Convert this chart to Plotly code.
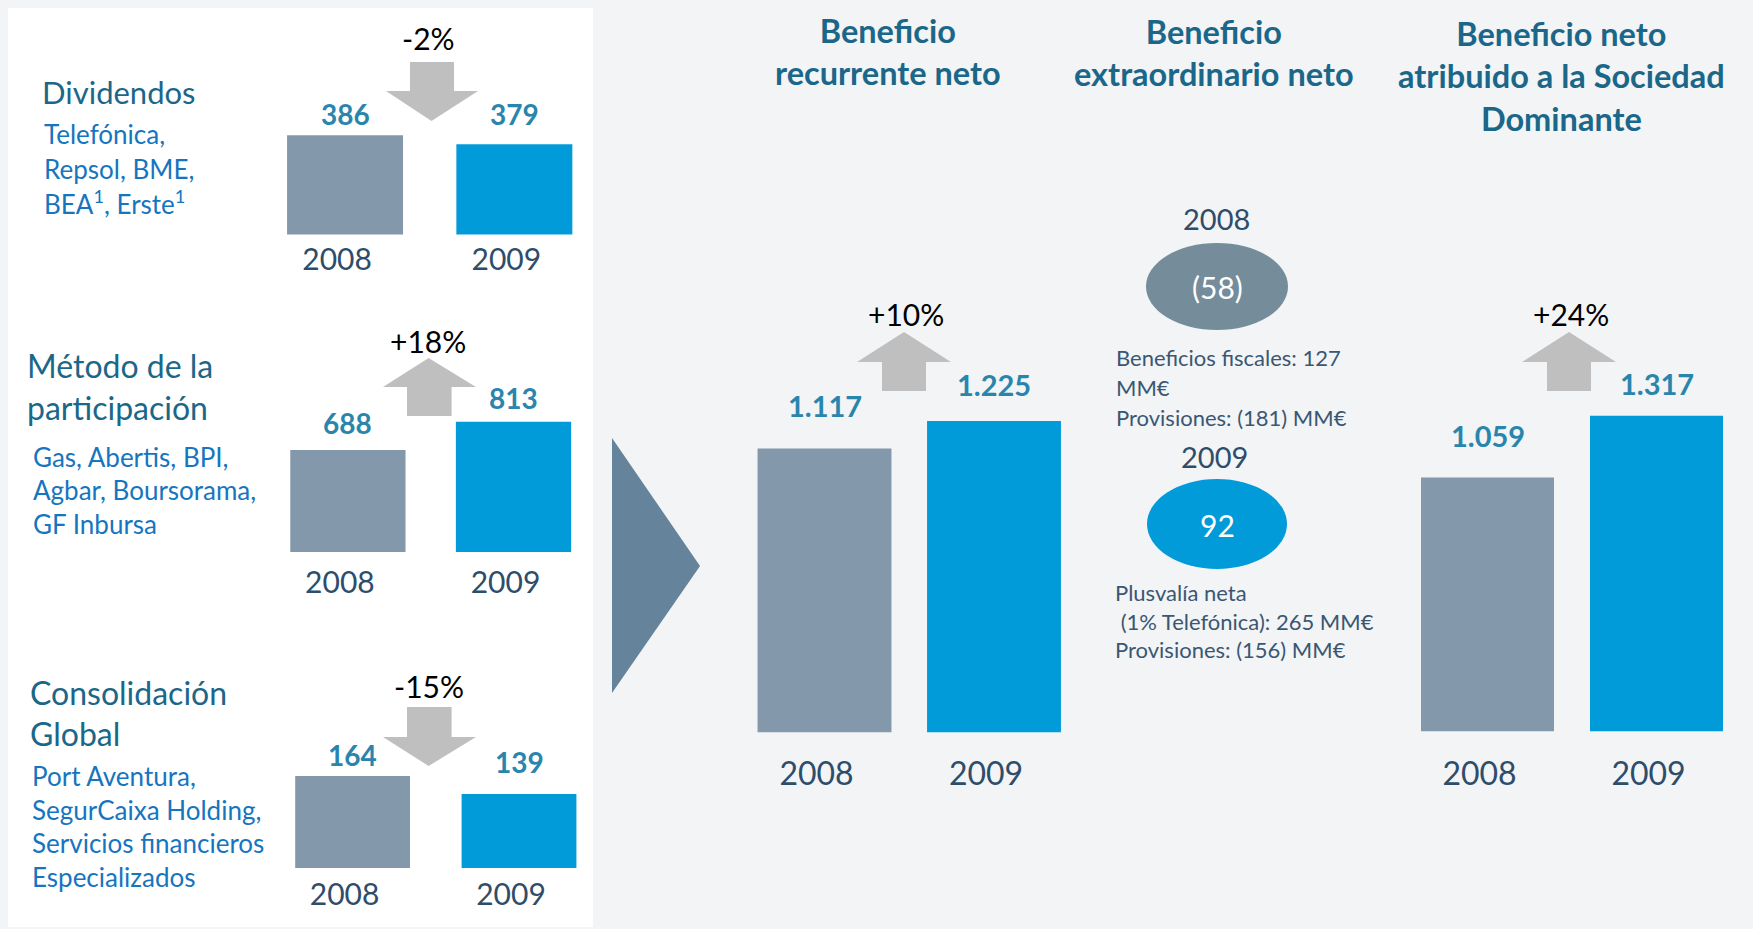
import plotly.graph_objects as go

W, H = 1753, 929

# ---------------- data ----------------
years = ["2008", "2009"]
dividendos = [386, 379]
metodo_participacion = [688, 813]
consolidacion_global = [164, 139]
beneficio_recurrente = [1117, 1225]
beneficio_atribuido = [1059, 1317]
beneficio_extraordinario = [-58, 92]

titulo_dividendos = ["Dividendos"]
empresas_dividendos = ["Telefónica,", "Repsol, BME,", "BEA<sup>1</sup>, Erste<sup>1</sup>"]
titulo_metodo = ["Método de la", "participación"]
empresas_metodo = ["Gas, Abertis, BPI,", "Agbar, Boursorama,", "GF Inbursa"]
titulo_consolidacion = ["Consolidación", "Global"]
empresas_consolidacion = ["Port Aventura,", "SegurCaixa Holding,", "Servicios financieros", "Especializados"]

cabecera_recurrente = "Beneficio<br>recurrente neto"
cabecera_extraordinario = "Beneficio<br>extraordinario neto"
cabecera_atribuido = "Beneficio neto<br>atribuido a la Sociedad<br>Dominante"

notas_2008 = ["Beneficios fiscales: 127", "MM€", "Provisiones: (181) MM€"]
notas_2009 = ["Plusvalía neta", "&nbsp;(1% Telefónica): 265 MM€", "Provisiones: (156) MM€"]

# ---------------- style ----------------
FONT = "Lato"
BG = "#F2F4F6"
GREY = "#8398AB"
BLUE = "#009BD8"
ARROW = "#BFBFBF"
TRI = "#65839A"
ELL_GREY = "#758C9A"
TITLE = "#1B6789"
COMPANY = "#1675BF"
VALUE = "#2A85AD"
YEAR = "#2E4D6B"
NOTE = "#3A5773"


def px(x):
    return x / W


def py(y):
    return 1 - y / H


def fmt(v):
    s = f"{abs(v):,}".replace(",", ".")
    return f"({s})" if v < 0 else s


def pct(vals):
    p = round((vals[1] - vals[0]) / vals[0] * 100)
    return f"+{p}%" if p > 0 else f"-{abs(p)}%"


fig = go.Figure()
shapes = []
annotations = []

# white left panel
shapes.append(dict(type="rect", xref="paper", yref="paper", x0=px(8), x1=px(593), y0=py(927), y1=py(8),
                   fillcolor="white", line=dict(width=0), layer="below"))

charts = [
    dict(vals=dividendos, xd=(260.4, 599.0), yd=(60, 234.5), yr=(309, 444.3), bw=0.685,
         vf=28, yf=30, off=(21, 30), so=4, pos=(428.4, 37.5), arrow="down",
         arr=dict(sL=410, sR=454, t=62, j=91, hL=386, hR=478, tx=431.5, ty=121)),
    dict(vals=metodo_participacion, xd=(265.1, 596.3), yd=(380, 552), yr=(238, 997), bw=0.696,
         vf=28, yf=30, off=(27, 24), so=10, pos=(428.0, 341), arrow="up",
         arr=dict(sL=407, sR=451.6, b=416, j=387, hL=383, hR=476, tx=428.6, ty=358)),
    dict(vals=consolidacion_global, xd=(269.4, 602.2), yd=(700, 868), yr=(36, 269.6), bw=0.69,
         vf=28, yf=30, off=(21, 32), so=6, pos=(428.6, 686), arrow="down",
         arr=dict(sL=407, sR=451.6, t=707, j=737, hL=383, hR=476, tx=428.6, ty=766)),
    dict(vals=beneficio_recurrente, xd=(739.75, 1078.75), yd=(380, 732.5), yr=(0, (732.5 - 380) / 0.2543),
         bw=0.79, vf=29, yf=32, off=(43, 36), so=19, pos=(906, 314), arrow="up",
         arr=dict(sL=882, sR=926, b=391, j=362, hL=857, hR=951, tx=904, ty=332)),
    dict(vals=beneficio_atribuido, xd=(1403, 1741), yd=(380, 731.5),
         yr=(0, (731.5 - 380) / 0.2398), bw=0.787, vf=29, yf=32, off=(42, 32), so=20,
         pos=(1571, 314), arrow="up",
         arr=dict(sL=1547, sR=1591, b=391, j=362, hL=1522, hR=1616, tx=1569, ty=332)),
]

layout_axes = {}
for i, c in enumerate(charts, start=1):
    xa = "x" if i == 1 else f"x{i}"
    ya = "y" if i == 1 else f"y{i}"
    fig.add_trace(go.Bar(x=years, y=c["vals"], width=c["bw"], marker=dict(color=[GREY, BLUE], line=dict(width=0)),
                         xaxis=xa, yaxis=ya, hoverinfo="skip", showlegend=False))
    xkey = "xaxis" if i == 1 else f"xaxis{i}"
    ykey = "yaxis" if i == 1 else f"yaxis{i}"
    layout_axes[xkey] = dict(domain=[px(c["xd"][0]), px(c["xd"][1])], anchor=ya, type="category",
                             range=[-0.5, 1.5], showgrid=False, zeroline=False, showline=False, ticks="",
                             tickfont=dict(family=FONT, size=c["yf"], color=YEAR),
                             ticklabelshift=-8, ticklabelstandoff=int(c["so"]), fixedrange=True)
    layout_axes[ykey] = dict(domain=[py(c["yd"][1]), py(c["yd"][0])], anchor=xa, range=list(c["yr"]),
                             showgrid=False, zeroline=False, showline=False, showticklabels=False,
                             fixedrange=True)
    # value labels (x given as category index)
    for k, (v, o) in enumerate(zip(c["vals"], c["off"])):
        annotations.append(dict(xref=xa, yref=ya, x=k, y=v, text=f"<b>{fmt(v)}</b>", showarrow=False,
                                xanchor="center", yanchor="middle", yshift=o,
                                font=dict(family=FONT, size=c["vf"], color=VALUE)))
    annotations.append(dict(xref="paper", yref="paper", x=px(c["pos"][0]), y=py(c["pos"][1]), text=pct(c["vals"]),
                            showarrow=False, xanchor="center", yanchor="middle",
                            font=dict(family=FONT, size=30, color="black")))
    a = c["arr"]
    if c["arrow"] == "down":
        pts = [(a["sL"], a["t"]), (a["sR"], a["t"]), (a["sR"], a["j"]), (a["hR"], a["j"]), (a["tx"], a["ty"]),
               (a["hL"], a["j"]), (a["sL"], a["j"])]
    else:
        pts = [(a["tx"], a["ty"]), (a["hR"], a["j"]), (a["sR"], a["j"]), (a["sR"], a["b"]), (a["sL"], a["b"]),
               (a["sL"], a["j"]), (a["hL"], a["j"])]
    path = "M " + " L ".join(f"{px(x):.5f},{py(y):.5f}" for x, y in pts) + " Z"
    shapes.append(dict(type="path", xref="paper", yref="paper", path=path, fillcolor=ARROW,
                       line=dict(width=0), layer="below"))

# big triangle
tri = [(612, 438), (700, 566), (612, 693)]
shapes.append(dict(type="path", xref="paper", yref="paper",
                   path="M " + " L ".join(f"{px(x):.5f},{py(y):.5f}" for x, y in tri) + " Z",
                   fillcolor=TRI, line=dict(width=0), layer="below"))

# ellipses for extraordinary result
ellipses = [dict(box=(1146, 1288, 243, 330), col=ELL_GREY, txt=(1217, 287), yr=(1216, 219)),
            dict(box=(1147, 1287, 479, 569), col=BLUE, txt=(1217, 525), yr=(1214, 456))]
for v, year, e in zip(beneficio_extraordinario, years, ellipses):
    x0, x1, y0, y1 = e["box"]
    shapes.append(dict(type="circle", xref="paper", yref="paper", x0=px(x0), x1=px(x1), y0=py(y1), y1=py(y0),
                       fillcolor=e["col"], line=dict(width=0), layer="below"))
    annotations.append(dict(xref="paper", yref="paper", x=px(e["txt"][0]), y=py(e["txt"][1]), text=fmt(v),
                            showarrow=False, xanchor="center", yanchor="middle",
                            font=dict(family=FONT, size=30, color="white")))
    annotations.append(dict(xref="paper", yref="paper", x=px(e["yr"][0]), y=py(e["yr"][1]), text=year,
                            showarrow=False, xanchor="center", yanchor="middle",
                            font=dict(family=FONT, size=29, color=YEAR)))

# notes
for lines, ys, x in [(notas_2008, [358, 387.5, 417], 1114), (notas_2009, [592.5, 621, 649], 1113)]:
    for t, y in zip(lines, ys):
        annotations.append(dict(xref="paper", yref="paper", x=px(x), y=py(y), text=t,
                                showarrow=False, xanchor="left", yanchor="middle",
                                font=dict(family=FONT, size=22, color=NOTE)))

# headers
for txt, x, y in [(cabecera_recurrente, 888, 52), (cabecera_extraordinario, 1214, 53),
                  (cabecera_atribuido, 1561, 76)]:
    annotations.append(dict(xref="paper", yref="paper", x=px(x), y=py(y), text=f"<b>{txt}</b>", showarrow=False,
                            xanchor="center", yanchor="middle", align="center",
                            font=dict(family=FONT, size=32.5, color=TITLE)))

# left panel texts
left_blocks = [
    (titulo_dividendos, 40, [92], 31, TITLE),
    (empresas_dividendos, 42, [134, 169, 202], 26, COMPANY),
    (titulo_metodo, 24.5, [366, 407], 32, TITLE),
    (empresas_metodo, 30.5, [457, 490, 524], 26, COMPANY),
    (titulo_consolidacion, 27.6, [692, 733], 32, TITLE),
    (empresas_consolidacion, 29.5, [776, 810, 843, 877], 26, COMPANY),
]
for lines, x, ys, size, col in left_blocks:
    for t, y in zip(lines, ys):
        annotations.append(dict(xref="paper", yref="paper", x=px(x), y=py(y), text=t, showarrow=False,
                                xanchor="left", yanchor="middle", font=dict(family=FONT, size=size, color=col)))

fig.update_layout(
    width=W, height=H, margin=dict(l=0, r=0, t=0, b=0),
    paper_bgcolor=BG, plot_bgcolor="rgba(0,0,0,0)",
    showlegend=False, shapes=shapes, annotations=annotations,
    font=dict(family=FONT), barmode="overlay",
    **layout_axes,
)

fig.write_html("out.html", config={"displayModeBar": False},
               post_script="document.body.style.margin='0px';document.body.style.overflow='hidden';")
